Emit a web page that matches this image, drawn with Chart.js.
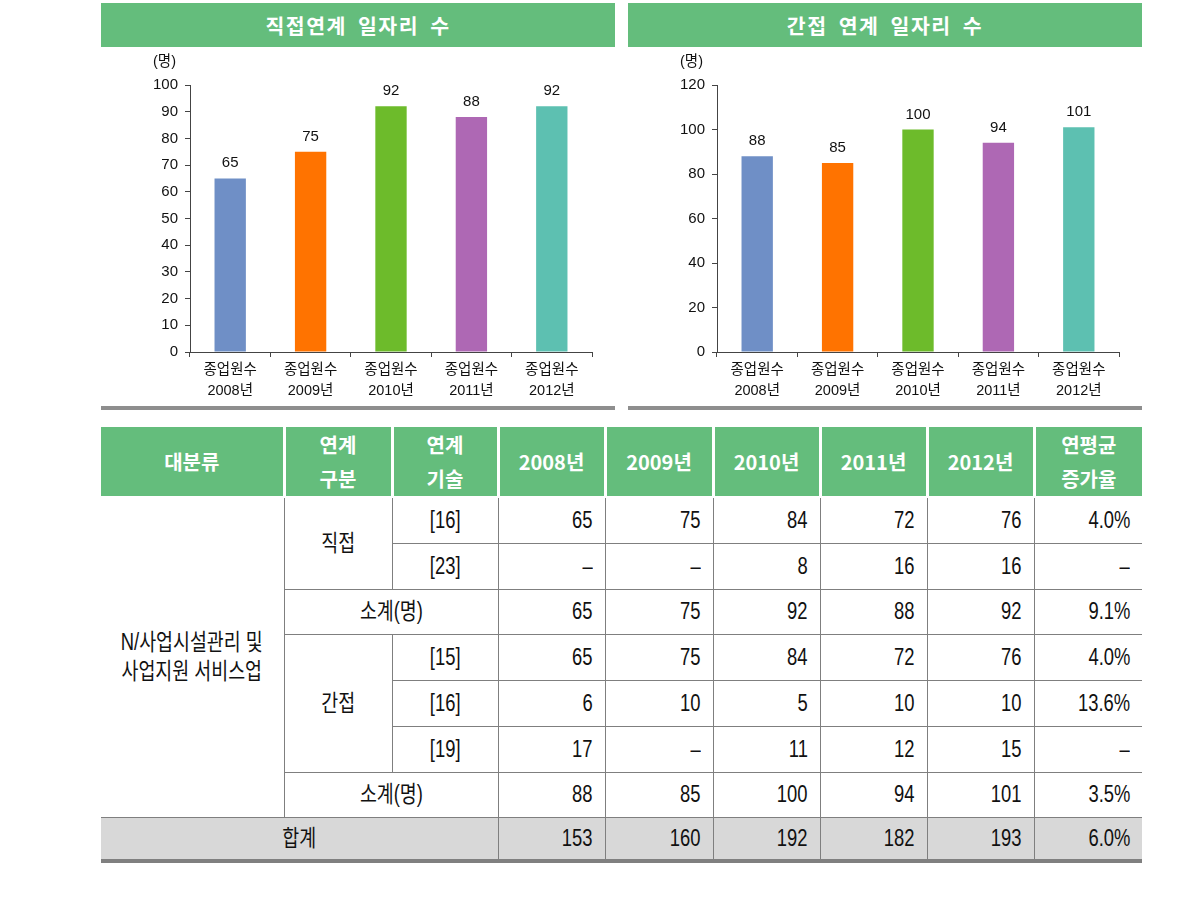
<!DOCTYPE html>
<html><head><meta charset="utf-8">
<script src="https://cdn.jsdelivr.net/npm/chart.js@4"></script>
<style>
body{margin:0;background:#fff;width:1204px;height:905px;position:relative;overflow:hidden;font-family:"Liberation Sans","Noto Sans CJK KR",sans-serif;color:#111;}
.title{position:absolute;top:3px;height:44px;width:514px;background:#64bd7c;color:#fff;font-weight:bold;font-size:20.5px;font-family:"Noto Sans CJK KR",sans-serif;display:flex;align-items:center;justify-content:center;letter-spacing:1.5px;word-spacing:5px;white-space:pre;}
.chartbox{position:absolute;top:47px;width:514px;height:355px;}
.rule{position:absolute;top:406px;height:4px;width:514px;background:#8e8e8e;}
table{position:absolute;left:101px;top:427px;border-collapse:collapse;table-layout:fixed;width:1041px;}
th{background:#64bd7c;color:#fff;font-family:"Noto Sans CJK KR",sans-serif;font-weight:bold;font-size:20px;line-height:34px;padding:0;border-left:3px solid #fff;border-bottom:2px solid #fff;text-align:center;vertical-align:middle;}
th:first-child{border-left:none;}
td{border:1px solid #7f7f7f;padding:0;font-size:23px;line-height:1;text-align:center;vertical-align:middle;white-space:nowrap;}
td.first{border-left:none;}
td.last{border-right:none;}
td.n{text-align:right;padding-right:12px;}
.s{display:inline-block;transform:scaleX(.8);transform-origin:50% 50%;}
td.n .s{transform-origin:100% 50%;}
tr.total td{background:#d8d8d8;border-bottom:4px solid #808080;}
.two{line-height:29px;}
</style></head>
<body>
<div class="title" style="left:101px">직접연계 일자리 수</div>
<div class="title" style="left:628px">간접 연계 일자리 수</div>
<div class="chartbox" style="left:101px"><canvas id="c1" width="514" height="355"></canvas></div>
<div class="chartbox" style="left:628px"><canvas id="c2" width="514" height="355"></canvas></div>
<div class="rule" style="left:101px"></div>
<div class="rule" style="left:628px"></div>

<table id="tbl">
<colgroup><col style="width:183px"><col style="width:108px"><col style="width:106px"><col style="width:107px"><col style="width:108px"><col style="width:107px"><col style="width:107px"><col style="width:107px"><col style="width:108px"></colgroup>
<thead><tr style="height:70px" id="headRow"></tr></thead>
<tbody id="tbody"></tbody>
</table>

<script>
// ---- chart data ----
const categories = [["종업원수","2008년"],["종업원수","2009년"],["종업원수","2010년"],["종업원수","2011년"],["종업원수","2012년"]];
const directValues = [65, 75, 92, 88, 92];
const indirectValues = [88, 85, 100, 94, 101];
const barColors = ["#6f8fc6", "#ff7300", "#6dbb2b", "#ae68b4", "#5dc0b1"];
const directAxis = [0, 100, 10];   // min, max, step
const indirectAxis = [0, 120, 20];
const unitLabel = "(명)";

// ---- table data ----
const headerLabels = ["대분류", "연계<br>구분", "연계<br>기술", "2008년", "2009년", "2010년", "2011년", "2012년", "연평균<br>증가율"];
const industry = ["N/사업시설관리 및", "사업지원 서비스업"];
const rowDirect16 = ["65", "75", "84", "72", "76", "4.0%"];
const rowDirect23 = ["–", "–", "8", "16", "16", "–"];
const rowDirectSub = ["65", "75", "92", "88", "92", "9.1%"];
const rowIndirect15 = ["65", "75", "84", "72", "76", "4.0%"];
const rowIndirect16 = ["6", "10", "5", "10", "10", "13.6%"];
const rowIndirect19 = ["17", "–", "11", "12", "15", "–"];
const rowIndirectSub = ["88", "85", "100", "94", "101", "3.5%"];
const rowTotal = ["153", "160", "192", "182", "193", "6.0%"];

// build table
document.getElementById('headRow').innerHTML = headerLabels.map(h => `<th>${h}</th>`).join('');
const S = t => `<span class="s">${t}</span>`;
const nums = arr => arr.map((v,i) => `<td class="n${i===arr.length-1?' last':''}">${S(v)}</td>`).join('');
const rows = [
  [46, `<td class="first" rowspan="7"><span class="s two">${industry.join('<br>')}</span></td><td rowspan="2">${S('직접')}</td><td>${S('[16]')}</td>` + nums(rowDirect16)],
  [46, `<td>${S('[23]')}</td>` + nums(rowDirect23)],
  [45, `<td colspan="2">${S('소계(명)')}</td>` + nums(rowDirectSub)],
  [46, `<td rowspan="3">${S('간접')}</td><td>${S('[15]')}</td>` + nums(rowIndirect15)],
  [46, `<td>${S('[16]')}</td>` + nums(rowIndirect16)],
  [46, `<td>${S('[19]')}</td>` + nums(rowIndirect19)],
  [45, `<td colspan="2">${S('소계(명)')}</td>` + nums(rowIndirectSub)],
];
let html = rows.map(r => `<tr style="height:${r[0]}px">${r[1]}</tr>`).join('');
html += `<tr class="total" style="height:44px"><td class="first" colspan="3">${S('합계')}</td>${nums(rowTotal)}</tr>`;
document.getElementById('tbody').innerHTML = html;

// ---- charts ----
const FONT = '"Liberation Sans", "Noto Sans CJK KR", sans-serif';
const valueLabels = {
  id: 'valueLabels',
  afterDatasetsDraw(chart) {
    const ctx = chart.ctx;
    const meta = chart.getDatasetMeta(0);
    const data = chart.data.datasets[0].data;
    ctx.save();
    ctx.fillStyle = '#111';
    ctx.font = '15px ' + FONT;
    ctx.textAlign = 'center';
    ctx.textBaseline = 'alphabetic';
    meta.data.forEach((bar, i) => ctx.fillText(String(data[i]), bar.x, bar.y - 11));
    // unit label, aligned with the widest tick label
    const ys = chart.scales.y;
    const topLabel = String(ys.max);
    const w = ctx.measureText(topLabel).width;
    const x = ys.right - 5 - 7 - w;
    ctx.font = '14.5px ' + FONT;
    ctx.textAlign = 'left';
    ctx.textBaseline = 'middle';
    ctx.fillText(unitLabel, x, chart.chartArea.top - 23);
    ctx.restore();
  }
};

function makeChart(id, values, axis) {
  return new Chart(document.getElementById(id), {
    type: 'bar',
    data: {
      labels: categories,
      datasets: [{ data: values, backgroundColor: barColors, borderWidth: 0, barPercentage: 0.39, categoryPercentage: 1 }]
    },
    options: {
      responsive: false,
      animation: false,
      devicePixelRatio: 1,
      layout: { padding: { top: 38, right: 23, left: 0, bottom: 0 } },
      plugins: { legend: { display: false }, tooltip: { enabled: false } },
      scales: {
        x: {
          offset: true,
          grid: { offset: true, drawOnChartArea: false, drawTicks: true, tickLength: 5, color: '#444' },
          border: { display: true, color: '#444', width: 1 },
          ticks: { color: '#111', font: { family: FONT, size: 14.5, lineHeight: '21px' }, padding: 2, maxRotation: 0, autoSkip: false },
          afterFit: s => { s.height = 50; }
        },
        y: {
          min: axis[0], max: axis[1],
          grid: { drawOnChartArea: false, drawTicks: true, tickLength: 5, color: '#444' },
          border: { display: true, color: '#444', width: 1 },
          ticks: { stepSize: axis[2], color: '#111', font: { family: FONT, size: 15 }, padding: 7 },
          afterFit: s => { s.width = 89; }
        }
      }
    },
    plugins: [valueLabels]
  });
}
makeChart('c1', directValues, directAxis);
makeChart('c2', indirectValues, indirectAxis);
</script>
</body></html>
